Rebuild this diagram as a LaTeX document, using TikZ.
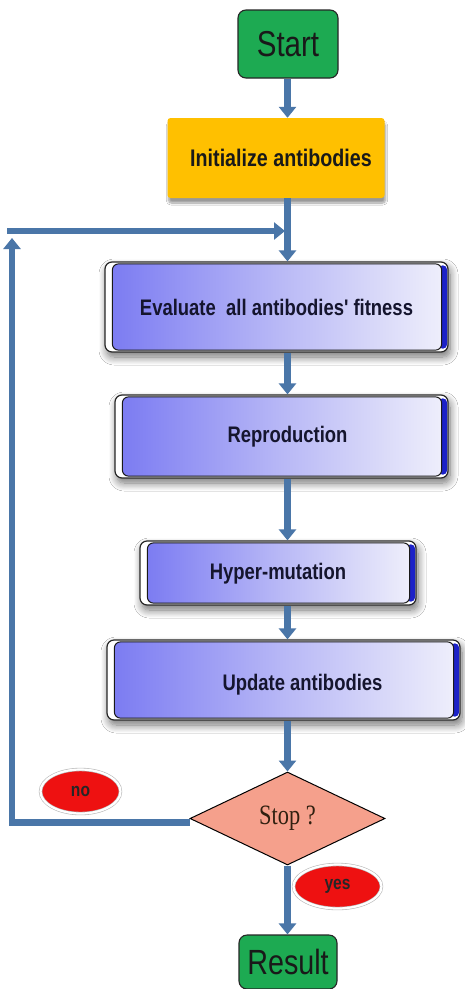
\documentclass[tikz,border=0pt]{standalone}
\usepackage{fontspec}
\setmainfont{Liberation Sans}
\newfontfamily\narrowsans[FakeStretch=0.82]{Liberation Sans}
\newfontfamily\stopfont[FakeStretch=0.8]{Liberation Serif}
\usetikzlibrary{arrows.meta,shapes.geometric,shadows.blur,calc}

\definecolor{flowblue}{HTML}{4A76A8}
\definecolor{termgreen}{HTML}{1DAA52}
\definecolor{initorange}{HTML}{FFC000}
\definecolor{paneldeep}{HTML}{7C7CF2}
\definecolor{panelmid}{HTML}{B8B8F6}
\definecolor{panellight}{HTML}{EEEEFB}
\definecolor{stripblue}{HTML}{1C22C8}
\definecolor{stopfill}{HTML}{F5A08C}
\definecolor{labelred}{HTML}{EE1111}
\definecolor{textnavy}{HTML}{15152E}

\tikzset{
  flow/.style={draw=flowblue, line width=6.5pt, line join=miter,
    -{Triangle[width=17pt,length=11pt]}},
  term/.style={rectangle, rounded corners=8pt, fill=termgreen, draw=black!85,
    line width=1.1pt, inner sep=0pt, text=black!90,
    font=\narrowsans\fontsize{36}{36}\selectfont},
  initbox/.style={rectangle, rounded corners=3pt, fill=initorange, inner sep=0pt,
    blur shadow={shadow xshift=1pt, shadow yshift=-5pt, shadow blur steps=10}},
  inittext/.style={inner sep=0pt, text=black!90,
    font=\narrowsans\bfseries\fontsize{24}{24}\selectfont},
  panelouter/.style={rectangle, rounded corners=7pt, fill=white, draw=black!85,
    line width=1.2pt, inner sep=0pt,
    blur shadow={shadow xshift=2pt, shadow yshift=-5pt, shadow blur radius=8pt,
      shadow blur steps=10, shadow opacity=55}},
  panelinner/.style={rounded corners=6pt, draw=black!90, line width=1pt,
    left color=paneldeep, right color=panellight, middle color=panelmid},
  paneltext/.style={text=textnavy, inner sep=0pt,
    font=\narrowsans\bfseries\fontsize{22.5}{22.5}\selectfont},
  decision/.style={diamond, fill=stopfill, draw=black, line width=1pt,
    inner sep=0pt, text=black!75!brown,
    font=\stopfont\fontsize{28}{28}\selectfont},
  answer/.style={ellipse, fill=labelred, draw=gray!55, line width=0.6pt,
    double=white, double distance=2.2pt, inner sep=0pt,
    text=black!85, font=\narrowsans\bfseries\fontsize{19}{19}\selectfont},
}

% a framed step box: name, centre x, centre y, width, height, label, label shift x, label shift y
\newcommand\flowpanel[8]{%
  \node[panelouter, minimum width=#4pt, minimum height=#5pt] (#1) at (#2,#3) {};
  \fill[stripblue, rounded corners=4pt]
    ([xshift=-10pt,yshift=-4pt]#1.north east) rectangle
    ([xshift=-1.6pt,yshift=4pt]#1.south east);
  \path[panelinner]
    ([xshift=8pt,yshift=-2.5pt]#1.north west) rectangle
    ([xshift=-7pt,yshift=2.5pt]#1.south east);
  \node[paneltext] at ([xshift=#7pt,yshift=#8pt]#1.center) {#6};
}

\begin{document}
\begin{tikzpicture}[x=1pt,y=-1pt]
\useasboundingbox (0,0) rectangle (465,989);
\fill[white] (0,0) rectangle (465,989);

\coordinate (axis) at (287.5,0);

% terminals and steps
\node[term, minimum width=100pt, minimum height=68pt] (start) at (288,44) {Start};
\node[initbox, minimum width=217pt, minimum height=80pt] (init) at (276,158) {};
\node[inittext] at ([xshift=5pt]init.center) {Initialize antibodies};

\flowpanel{evaluate}{276.5}{307}{343}{90}{Evaluate \ all antibodies' fitness}{0}{0}
\flowpanel{repro}{281.5}{436.5}{333}{83}{Reproduction}{6}{0}
\flowpanel{hyper}{278}{573}{276}{64}{Hyper-mutation}{0}{-1}
\flowpanel{update}{283.5}{680}{353}{80}{Update antibodies}{19}{-5}

\node[decision, minimum width=195pt, minimum height=93pt] (stop) at (287.5,818.5)
  {Stop ?};
\node[term, minimum width=98pt, minimum height=54pt,
  font=\narrowsans\fontsize{35}{35}\selectfont] (result) at (288,962) {Result};

\node[answer, minimum width=80pt, minimum height=44pt] (no) at (80.5,791.5) {no};
\node[answer, minimum width=88pt, minimum height=44pt] (yes) at (337.5,886.5) {yes};

% loop-back points
\coordinate (loopup) at (12,238);
\coordinate (loopleft) at (7,231);
\coordinate (merge) at (285,231);

% main column
\draw[flow] (start.south -| axis) -- (init.north -| axis);
\draw[flow] (init.south -| axis) -- (evaluate.north -| axis);
\draw[flow] (evaluate.south -| axis) -- (repro.north -| axis);
\draw[flow] (repro.south -| axis) -- (hyper.north -| axis);
\draw[flow] (hyper.south -| axis) -- (update.north -| axis);
\draw[flow] (update.south -| axis) -- (stop.north);
\draw[flow] (stop.south) -- (result.north -| stop.south);

% "no" branch back to the evaluation step
\draw[flow] ([yshift=-4pt]stop.west) -| (loopup);
\draw[flow] (loopleft) -- (merge);
\end{tikzpicture}
\end{document}
